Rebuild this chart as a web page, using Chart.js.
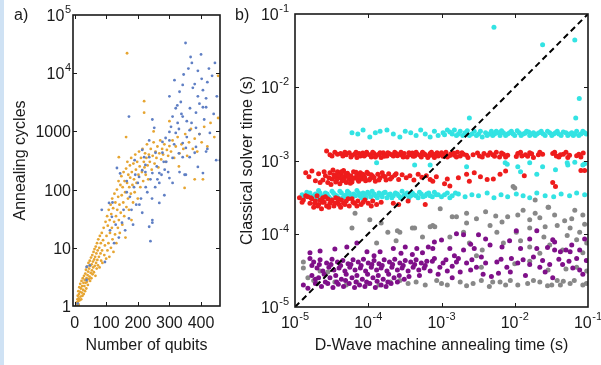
<!DOCTYPE html>
<html>
<head>
<meta charset="utf-8">
<script src="https://cdn.jsdelivr.net/npm/chart.js@4.4.1/dist/chart.umd.min.js"></script>
<style>
  html, body { margin:0; padding:0; background:#ffffff; }
  body { width:601px; height:365px; position:relative; overflow:hidden; font-family:"Liberation Sans", Arial, Helvetica, sans-serif; }
  #strip { position:absolute; left:0; top:0; width:4px; height:365px; background:#cfe2f4; }
  canvas { position:absolute; top:0; }
  #ca { left:0; }
  #cb { left:232px; }
  .plabel { position:absolute; font-size:16px; line-height:16px; color:#1a1a1a; }
</style>
</head>
<body>
<div id="strip"></div>
<canvas id="ca" width="232" height="365"></canvas>
<canvas id="cb" width="369" height="365"></canvas>
<div class="plabel" style="left:14px; top:7px;">a)</div>
<div class="plabel" style="left:235px; top:7px;">b)</div>
<script>
// ---------------- Panel a data ----------------
const aXTicks = [0, 100, 200, 300, 400];
const aYTicks = [1, 10, 100, 1000, 1e4, 1e5];
const aYTickLabels = ['1', '10', '100', '1000', '10\u2074', '10\u2075'];

const aOrange = [
[6,1],[7,1.15],[8,1.05],[9,1.3],[10,1.1],[10,1.5],[11,1.2],[12,1.8],[13,1.35],[13,1.05],[14,1.6],[15,2.1],[16,1.25],[17,1.75],[18,2.4],[19,1.45],[20,2],[21,1.3],[22,2.7],[23,1.7],[24,2.2],[25,1.5],[26,3],[27,1.9],[28,2.5],[29,1.6],[30,3.3],
[31,2.2],[32,2.8],[33,1.8],[34,3.6],[35,2.5],[36,4.2],[37,2],[38,3],[39,2.6],[40,4.8],[41,3.4],[42,2.3],[43,3.9],[44,5.5],[45,2.9],[46,4.4],[47,3.2],[48,6],[49,2.7],[50,4.9],[51,3.7],[52,6.8],[53,3],[54,5.2],[55,4.1],[56,7.5],[57,3.5],[58,5.8],[59,4.6],[60,8.5],
[61,3.8],[62,6.3],[63,9.5],[64,4.9],[65,7],[66,3.3],[67,10.5],[68,5.5],[69,8],[70,4.4],[71,12],[72,6.2],[73,9],[74,5],[75,14],[77,7],[78,10],[79,4.6],[80,16],[82,8],[83,12],[84,6],[86,18],[87,9],[88,5.5],[90,13.5],[92,22],[94,7.5],[96,11],[98,28],
[100,6.5],[101,16],[103,35],[104,9],[105,24],[107,12],[108,45],[110,7],[111,30],[112,18],[114,55],[115,10],[116,38],[118,22],[119,70],[120,14],[122,48],[123,8.5],[125,28],[126,85],[128,17],[129,60],[131,35],[132,12],[134,100],[135,45],[137,22],[138,75],[139,140],[140,30],
[142,55],[143,18],[145,120],[146,40],[148,170],[149,80],[151,25],[152,110],[154,60],[155,200],[157,35],[158,140],[160,90],[161,15],[163,230],[164,50],[166,130],[167,300],[169,70],[170,180],[172,45],[173,110],[175,260],[176,160],[178,85],[179,350],[180,30],[181,200],[183,120],[185,60],
[186,280],[188,150],[190,90],[192,400],[194,220],[196,130],[198,300],[200,70],[202,180],[204,450],[206,250],[208,110],[210,350],[213,200],[215,500],[217,140],[219,300],[221,240],[223,420],[225,180],[227,350],[229,600],[231,260],[233,150],[235,400],
[238,300],[241,500],[244,220],[247,380],[250,650],[253,280],[256,450],[259,350],[262,550],[265,240],[268,420],[271,700],[274,330],[277,500],[280,400],[284,600],[288,300],[292,480],[296,380],[300,560],
[305,450],[310,700],[315,350],[320,550],[326,800],[332,420],[338,600],[344,500],[350,900],[356,380],[362,650],[368,1100],[374,500],[380,750],[388,450],[395,900],[402,650],[410,1200],[420,550],[430,1400],[442,800],[454,1700],
[166,22000],[220,3300],[220,2100],[163,800],[140,360],[380,150],[406,150],[348,107],[330,250],[454,9000],[300,1500],[250,1000]
];

const aBlue = [
[10,1.1],[38,2.8],[48,5],[38,4.7],[96,5.7],[86,45],[109,59],[118,34],[150,27],[172,32],[214,40],[240,13],[246,27],[284,80],[268,59],[352,180],[188,110],[204,165],[224,200],[268,192],[300,158],[236,23],[246,30],[268,130],[310,130],[332,200],[348,180],[144,190],[134,235],[192,180],[224,265],[246,192],[214,215],[236,360],[278,430],[300,700],[320,940],[342,630],[364,360],[384,540],[390,245],[406,192],[448,320],[464,350],
[351,33000],[367,19000],[400,21000],[371,15000],[390,11000],[444,15000],[316,7600],[342,6300],[332,4800],[374,5600],[406,5100],[416,3700],[406,2600],[336,3200],[320,2500],[310,1800],[342,1800],[384,2100],[416,2600],[246,1600],[172,1800],[326,1400],[300,980],[252,1150],[364,1050],[384,1150],[288,770],[278,660],[236,700],[214,480],[220,360],[256,430],[352,520],[342,360],[380,430],[416,450],[428,940],[460,320],
[290,300],[310,350],[260,250],[275,180],[330,420],[355,800],[370,1400],[395,3000],[420,7000],[435,9000],[300,4000],[325,2800],[345,9500],[360,12000],[380,6500],[395,900],[410,1600],[420,500],[440,2000],[450,4000],[230,90],[210,70],[195,55],[180,45],[160,20],[140,15],[125,12],[112,20],[255,110],[285,220],[240,150],[200,130],[175,75],[165,140],[190,320],
[120,60],[130,25],[155,45],[165,90],[185,25],[205,55],[225,110],[245,70],[262,150],[282,300],[296,200],[315,600],[330,1100],[355,1500],[365,2500],[390,4000],[402,8000],[425,12000],[338,2000],[305,1200]
];

// ---------------- Panel b data ----------------
const bTicks = [1e-5, 1e-4, 1e-3, 1e-2, 1e-1];
const bTickLabels = ['10\u207B\u2075', '10\u207B\u2074', '10\u207B\u00B3', '10\u207B\u00B2', '10\u207B\u00B9'];
const bDiagonal = [[1e-5, 1e-5], [1e-1, 1e-1]];

const bRed = [
[2.7e-5,1.35e-3],[3e-5,1.2e-3],[3.5e-5,1.3e-3],[4.2e-5,1.25e-3],[4.5e-5,1.15e-3],[5e-5,1.2e-3],[5.5e-5,1.28e-3],[6e-5,1.18e-3],[6.5e-5,1.22e-3],[7e-5,1.1e-3],[7.5e-5,1.25e-3],[8e-5,1.2e-3],[8.8e-5,1.15e-3],[9.5e-5,1.3e-3],[1.05e-4,1.2e-3],[1.1e-4,1.12e-3],[1.2e-4,1.25e-3],[1.3e-4,1.18e-3],[1.4e-4,1.22e-3],[1.5e-4,1.1e-3],[1.6e-4,1.28e-3],[1.7e-4,1.2e-3],[1.8e-4,1.15e-3],[1.95e-4,1.24e-3],[2.1e-4,1.2e-3],[2.3e-4,1.3e-3],[2.5e-4,1.16e-3],[2.7e-4,1.22e-3],[2.9e-4,1.18e-3],[3.1e-4,1.25e-3],[3.4e-4,1.12e-3],[3.7e-4,1.2e-3],[4e-4,1.27e-3],[4.3e-4,1.15e-3],[4.7e-4,1.22e-3],[5.1e-4,1.18e-3],[5.5e-4,1.3e-3],[6e-4,1.2e-3],[6.5e-4,1.1e-3],[7e-4,1.25e-3],[7.6e-4,1.18e-3],[8.3e-4,1.22e-3],[9e-4,1.15e-3],[1e-3,1.28e-3],[1.1e-3,1.2e-3],[1.2e-3,1.12e-3],[1.35e-3,1.24e-3],[1.5e-3,1.18e-3],[1.65e-3,1.3e-3],[1.8e-3,1.15e-3],[2e-3,1.22e-3],[2.3e-3,1.1e-3],[2.7e-3,1.2e-3],[3.3e-3,1.15e-3],[3.8e-3,1.25e-3],[4.3e-3,1.18e-3],[5e-3,1.2e-3],[5.6e-3,1.3e-3],[6.2e-3,1.12e-3],[7e-3,1.22e-3],[8e-3,1.18e-3],[1.1e-2,1.25e-3],[1.25e-2,1.15e-3],[1.4e-2,1.2e-3],[1.6e-2,1.28e-3],[1.8e-2,1.1e-3],[2.1e-2,1.2e-3],[2.4e-2,1.22e-3],[3.3e-2,1.25e-3],[3.7e-2,1.15e-3],[4.2e-2,1.2e-3],[5e-2,1.3e-3],[5.6e-2,1.18e-3],[7.5e-2,1.22e-3],[8e-2,1.12e-3],
[3.2e-5,1.15e-3],[3.8e-5,1.22e-3],[4.8e-5,1.3e-3],[5.8e-5,1.12e-3],[6.8e-5,1.3e-3],[7.8e-5,1.15e-3],[8.4e-5,1.27e-3],[9.2e-5,1.2e-3],[1.15e-4,1.3e-3],[1.25e-4,1.12e-3],[1.45e-4,1.28e-3],[1.65e-4,1.14e-3],[1.85e-4,1.28e-3],[2.2e-4,1.15e-3],[2.4e-4,1.25e-3],[2.8e-4,1.3e-3],[3e-4,1.12e-3],[3.6e-4,1.28e-3],[4.1e-4,1.14e-3],[4.5e-4,1.3e-3],[5.3e-4,1.12e-3],[5.8e-4,1.24e-3],[6.8e-4,1.17e-3],[7.3e-4,1.3e-3],[8e-4,1.1e-3],[8.7e-4,1.28e-3],[9.5e-4,1.2e-3],[1.05e-3,1.14e-3],[1.15e-3,1.3e-3],[1.3e-3,1.17e-3],[1.45e-3,1.27e-3],[1.6e-3,1.12e-3],[1.9e-3,1.28e-3],[2.2e-3,1.18e-3],[3.1e-3,1.27e-3],[3.6e-3,1.12e-3],[4.6e-3,1.28e-3],[5.3e-3,1.14e-3],[6.6e-3,1.27e-3],[7.5e-3,1.12e-3],[1.05e-2,1.13e-3],[1.2e-2,1.3e-3],[1.5e-2,1.14e-3],[1.7e-2,1.24e-3],[2.2e-2,1.3e-3],[3.5e-2,1.3e-3],[4e-2,1.12e-3],[4.6e-2,1.22e-3],[5.3e-2,1.1e-3],[7e-2,1.16e-3],[8.6e-2,1.27e-3],
[1.4e-5,6.8e-4],[1.7e-5,7.2e-4],[1.9e-5,5.3e-4],[2.4e-5,5.4e-4],[2.6e-5,6.2e-4],[2.8e-5,5e-4],[3e-5,6.8e-4],[3.2e-5,5.6e-4],[3.4e-5,6.4e-4],[3.6e-5,5.1e-4],[3.8e-5,7e-4],[4e-5,5.8e-4],[4.2e-5,6.5e-4],[4.4e-5,5.3e-4],[4.6e-5,7.3e-4],[4.8e-5,6e-4],[5e-5,5e-4],[5.2e-5,6.7e-4],[5.5e-5,5.5e-4],[5.8e-5,6.2e-4],[6e-5,5.1e-4],[6.3e-5,7e-4],[6.6e-5,5.8e-4],[7e-5,6.4e-4],[7.4e-5,5.2e-4],[7.8e-5,6.8e-4],[8.2e-5,5.6e-4],[8.7e-5,6.2e-4],[9.2e-5,5.3e-4],[1e-4,6.6e-4],[1.07e-4,5.7e-4],[1.15e-4,6.1e-4],[1.25e-4,5.2e-4],[1.35e-4,6.5e-4],[1.45e-4,5.8e-4],[1.6e-4,6.2e-4],[1.75e-4,5.4e-4],[1.9e-4,6.6e-4],[2.1e-4,5.9e-4],[2.3e-4,6.3e-4],[2.6e-4,5.5e-4],[2.9e-4,6.4e-4],[3.3e-4,5.8e-4],[3.7e-4,6.2e-4],[4.2e-4,5.4e-4],[4.8e-4,6.5e-4],[5.4e-4,5.9e-4],[6.2e-4,6.2e-4],[7e-4,5.5e-4],[7.6e-4,5.2e-4],[8.5e-4,6e-4],[1.1e-3,4.8e-4],[1.2e-3,5.6e-4],[1.3e-3,4.5e-4],[1.7e-3,5.8e-4],[2.2e-3,6.5e-4],[2.4e-3,5.2e-4],[2.8e-3,6.8e-4],[3.4e-3,6e-4],[4.2e-3,5.5e-4],[5.1e-3,5.6e-4],[6.3e-3,6.5e-4],[7.5e-3,7.2e-4],[1.35e-2,6.2e-4],[3.3e-2,5e-4],[3.6e-2,4.4e-4],[8e-2,7.3e-4],[9e-2,7.3e-4],
[1.55e-5,6e-4],[2.1e-5,6.6e-4],[2.2e-5,5e-4],[2.5e-5,7e-4],[2.9e-5,5.8e-4],[3.1e-5,4.7e-4],[3.3e-5,7.4e-4],[3.5e-5,6e-4],[3.7e-5,5.4e-4],[3.9e-5,6.3e-4],[4.1e-5,4.8e-4],[4.3e-5,7e-4],[4.5e-5,5.9e-4],[4.7e-5,5.5e-4],[4.9e-5,6.6e-4],[5.4e-5,6.1e-4],[5.7e-5,4.9e-4],[6.2e-5,5.7e-4],[6.8e-5,6.9e-4],[7.2e-5,5.5e-4],[7.6e-5,6e-4],[8.4e-5,6.5e-4],[9e-5,5.8e-4],[9.6e-5,6.9e-4],[1.03e-4,5.4e-4],[1.1e-4,6.4e-4],[1.2e-4,5.8e-4],[1.4e-4,5.4e-4],[1.55e-4,6.8e-4],[1.7e-4,6e-4],[2e-4,5.6e-4],[2.4e-4,6.6e-4],
[1.15e-5,3.1e-4],[1.3e-5,2.9e-4],[1.5e-5,3.2e-4],[1.6e-5,2.6e-4],[1.7e-5,3e-4],[1.8e-5,2.3e-4],[1.9e-5,2.8e-4],[2e-5,3.3e-4],[2.1e-5,2.5e-4],[2.2e-5,2.9e-4],[2.3e-5,2.2e-4],[2.4e-5,3.1e-4],[2.5e-5,2.7e-4],[2.7e-5,2.4e-4],[2.8e-5,3e-4],[3e-5,2.6e-4],[3.2e-5,2.9e-4],[3.4e-5,2.4e-4],[3.6e-5,3.1e-4],[3.8e-5,2.7e-4],[4e-5,2.5e-4],[4.3e-5,2.9e-4],[4.6e-5,2.6e-4],[5e-5,2.8e-4],[5.5e-5,2.4e-4],[6e-5,3e-4],[6.5e-5,2.6e-4],[7.2e-5,2.8e-4],[8e-5,2.5e-4],[9e-5,2.9e-4],[1e-4,2.6e-4],[1.15e-4,2.8e-4],[1.3e-4,2.5e-4],[1.5e-4,2.7e-4],[2.2e-4,2.6e-4],[2.6e-4,2.5e-4],[3.5e-4,2.8e-4],[6e-4,2.5e-4],
[1.25e-5,2.7e-4],[1.4e-5,3.3e-4],[1.65e-5,3.1e-4],[1.85e-5,2.6e-4],[2.05e-5,2.4e-4],[2.35e-5,2.7e-4],[2.6e-5,3.2e-4],[2.9e-5,2.3e-4],[3.1e-5,2.8e-4],[3.5e-5,2.6e-4],[3.9e-5,3e-4],[4.2e-5,2.3e-4],[4.8e-5,2.5e-4],[5.3e-5,3e-4],[6.2e-5,2.7e-4],[7e-5,2.4e-4],[8.5e-5,2.7e-4],[1.1e-4,2.4e-4]
];

const bCyan = [
[6e-5,2.4e-3],[7.2e-5,2.3e-3],[8.5e-5,2.6e-3],[1.05e-4,2.1e-3],[1.25e-4,2.4e-3],[1.45e-4,2.5e-3],[1.8e-4,2.6e-3],[2.2e-4,2.3e-3],[2.7e-4,2.1e-3],[3.2e-4,2.5e-3],[3.8e-4,2.4e-3],[4.5e-4,2.2e-3],[5.2e-4,2.6e-3],[6e-4,2.3e-3],[7e-4,2.1e-3],[8e-4,2.5e-3],[9e-4,2.2e-3],[1.05e-3,2.4e-3],[1.2e-3,2.6e-3],[1.4e-3,2.3e-3],[1.6e-3,2.2e-3],[1.8e-3,2.5e-3],[2.1e-3,2.4e-3],[2.4e-3,2.2e-3],[2.8e-3,2.5e-3],[3.2e-3,2.3e-3],[3.6e-3,2.1e-3],[4e-3,2.4e-3],[4.5e-3,2.3e-3],[5e-3,2.2e-3],[5.6e-3,2.5e-3],[6.3e-3,2.2e-3],[7e-3,2.4e-3],[8e-3,2.3e-3],[9e-3,2.5e-3],[1e-2,2.2e-3],[1.15e-2,2.4e-3],[1.3e-2,2.3e-3],[1.45e-2,2.5e-3],[1.6e-2,2.2e-3],[1.8e-2,2.4e-3],[2e-2,2.3e-3],[2.3e-2,2.5e-3],[2.6e-2,2.2e-3],[3e-2,2.4e-3],[3.4e-2,2.3e-3],[3.8e-2,2.5e-3],[4.3e-2,2.2e-3],[5e-2,2.4e-3],[5.6e-2,2.3e-3],[6.3e-2,2.2e-3],[7e-2,2.5e-3],[8e-2,2.3e-3],[9e-2,2.4e-3],
[1.1e-3,2.25e-3],[1.3e-3,2.45e-3],[1.5e-3,2.6e-3],[1.7e-3,2.3e-3],[1.95e-3,2.2e-3],[2.25e-3,2.55e-3],[2.6e-3,2.3e-3],[3e-3,2.2e-3],[3.4e-3,2.5e-3],[4.2e-3,2.2e-3],[4.8e-3,2.5e-3],[5.3e-3,2.3e-3],[6e-3,2.4e-3],[6.6e-3,2.55e-3],[7.5e-3,2.2e-3],[8.5e-3,2.4e-3],[9.5e-3,2.3e-3],[1.08e-2,2.55e-3],[1.22e-2,2.2e-3],[1.38e-2,2.35e-3],[1.55e-2,2.45e-3],[1.7e-2,2.3e-3],[1.9e-2,2.2e-3],[2.15e-2,2.4e-3],[2.45e-2,2.3e-3],[2.8e-2,2.5e-3],[3.2e-2,2.2e-3],[3.6e-2,2.4e-3],[4e-2,2.3e-3],[4.6e-2,2.45e-3],[5.3e-2,2.2e-3],[6e-2,2.4e-3],[6.6e-2,2.3e-3],[7.5e-2,2.2e-3],[8.5e-2,2.5e-3],[9.5e-2,2.3e-3],
[5.2e-3,6.6e-2],[2.4e-2,3.8e-2],[6.6e-2,4.4e-2],[7.6e-2,7e-3],[6.8e-2,3.8e-3],[2.4e-3,3.8e-3],
[1.3e-4,9.3e-4],[4.3e-4,8.7e-4],[7e-4,8.7e-4],[2.2e-3,8.2e-4],[7.4e-3,9.3e-4],[7.9e-3,8.9e-4],[1.1e-2,8.2e-4],[1.6e-2,9.3e-4],[2.4e-2,8.2e-4],[5.2e-2,9.3e-4],[5.3e-2,8.7e-4],[6.6e-2,9.5e-4],[8.5e-2,8.7e-4],[1.2e-2,7e-4],[2e-2,6.5e-4],[3.6e-2,7.5e-4],[9e-2,9e-4],
[1.25e-5,3.4e-4],[1.45e-5,3.7e-4],[1.7e-5,3.1e-4],[1.9e-5,3.5e-4],[2.1e-5,3.9e-4],[2.3e-5,3.3e-4],[2.6e-5,3.6e-4],[2.9e-5,3.2e-4],[3.2e-5,3.8e-4],[3.5e-5,3.4e-4],[3.9e-5,3.1e-4],[4.3e-5,3.6e-4],[4.7e-5,3.3e-4],[5.2e-5,3.8e-4],[5.7e-5,3.2e-4],[6.3e-5,3.5e-4],[7e-5,3.9e-4],[7.7e-5,3.3e-4],[8.5e-5,3.6e-4],[9.3e-5,3.1e-4],[1.03e-4,3.5e-4],[1.13e-4,3.8e-4],[1.25e-4,3.3e-4],[1.4e-4,3.6e-4],[1.55e-4,3.2e-4],[1.7e-4,3.7e-4],[1.9e-4,3.4e-4],[2.1e-4,3.1e-4],[2.35e-4,3.6e-4],[2.6e-4,3.3e-4],[2.9e-4,3.8e-4],[3.2e-4,3.4e-4],[3.6e-4,3.1e-4],[4e-4,3.6e-4],[4.5e-4,3.3e-4],[5e-4,3.7e-4],[5.6e-4,3.2e-4],[6.3e-4,3.5e-4],[7e-4,3.3e-4],[8e-4,3.7e-4],[9e-4,3.4e-4],[1e-3,3.2e-4],[1.2e-3,3.6e-4],[1.4e-3,3.3e-4],[1.7e-3,3.5e-4],[2.1e-3,3.2e-4],[2.6e-3,3.4e-4],[3.2e-3,3.3e-4],[4.2e-3,3.6e-4],[5.2e-3,3.1e-4],[6.5e-3,3.4e-4],[8e-3,3.2e-4],[1.05e-2,3.5e-4],[1.3e-2,3.3e-4],[1.6e-2,3.1e-4],[2e-2,3.6e-4],[2.6e-2,3.3e-4],[3.4e-2,3.2e-4],[4.3e-2,3.5e-4],[5.6e-2,3.3e-4],[7e-2,3.6e-4],[9e-2,3.4e-4],
[1.35e-5,3.2e-4],[1.6e-5,3.6e-4],[1.8e-5,3.3e-4],[2e-5,3e-4],[2.2e-5,3.6e-4],[2.45e-5,3.2e-4],[2.75e-5,3.5e-4],[3.05e-5,3e-4],[3.35e-5,3.6e-4],[3.7e-5,3.3e-4],[4.1e-5,3.8e-4],[4.5e-5,3.1e-4],[5e-5,3.4e-4],[5.5e-5,3.6e-4],[6e-5,3.1e-4],[6.7e-5,3.3e-4],[7.4e-5,3.6e-4],[8.1e-5,3.1e-4],[8.9e-5,3.4e-4],[9.8e-5,3.7e-4],[1.08e-4,3.2e-4],[1.2e-4,3.5e-4],[1.33e-4,3.1e-4],[1.47e-4,3.4e-4],[1.62e-4,3.6e-4],[1.8e-4,3.1e-4],[2e-4,3.5e-4],[2.2e-4,3.3e-4],[2.5e-4,3.5e-4],[2.75e-4,3.1e-4],[3.05e-4,3.3e-4],[3.4e-4,3.6e-4],[3.8e-4,3.3e-4],[4.2e-4,3.4e-4],[4.8e-4,3.1e-4],[5.3e-4,3.5e-4],[6e-4,3.3e-4],[6.7e-4,3.6e-4],[7.5e-4,3.2e-4],[8.5e-4,3.4e-4],[1.1e-3,3.4e-4],[1.3e-3,3.1e-4],[1.55e-3,3.6e-4]
];

const bGray = [
[6.6e-5,1.9e-4],[1.05e-4,1.55e-4],[6e-5,1.2e-4],[1.85e-4,1.05e-4],[2.7e-4,1.05e-4],[4.3e-4,1.2e-4],[7.6e-4,1.3e-4],[1.3e-4,7.5e-5],[1.3e-5,4.1e-5],[1.3e-5,3.4e-5],[2.2e-5,3.1e-5],
[9.6e-4,2.2e-4],[1.6e-3,1.7e-4],[2.2e-3,1.9e-4],[2.2e-3,1.4e-4],[4.6e-3,1.3e-4],[6.7e-3,1.45e-4],[8e-3,1.7e-4],[1.1e-2,1.8e-4],[1.6e-2,1.55e-4],[2.2e-2,1.65e-4],[2.85e-2,2.3e-4],[6.6e-2,2.1e-4],[8.5e-2,1.8e-4],[8.1e-4,1.25e-4],[2e-3,1.05e-4],[5.7e-3,1.05e-4],[1.05e-2,1.05e-4],[1.6e-2,1.2e-4],[2.6e-2,1.25e-4],[3.8e-2,1.3e-4],[5.7e-2,1.2e-4],[7.7e-2,1.05e-4],[2.4e-3,7.5e-5],[3.6e-3,6e-5],[7e-3,7.5e-5],[1.6e-2,6.6e-5],[2.2e-2,5.4e-5],[4.5e-2,6e-5],[7e-2,8.3e-5],[9.6e-2,7.5e-5],[1e-2,3.9e-5],[2.85e-2,3.2e-5],[7e-2,3.5e-5],[9.6e-2,3.1e-5],
[8.6e-4,2.3e-5],[1.8e-3,2.2e-5],[2.7e-3,2.1e-5],[6.3e-3,2.2e-5],[8.7e-3,2.3e-5],[1.5e-2,2.1e-5],[3.8e-2,2.3e-5],[5.7e-2,2.1e-5],[8.5e-2,2e-5],[1.2e-3,2e-5],[3.5e-3,2.3e-5],[4.5e-3,1.9e-5],[2.2e-2,2.2e-5],[2.8e-2,1.95e-5],[4.6e-2,2.25e-5],
[1.5e-5,2.5e-5],[1.8e-5,2.3e-5],[2e-5,2.1e-5],[2.8e-5,3e-5],[3.5e-5,2.2e-5],[5e-5,2e-5],[7e-5,2.2e-5],[1e-4,2.1e-5],[1.4e-4,2e-5],[2e-4,2.2e-5],[2.7e-4,2.3e-5],[3.5e-4,2.1e-5],[4.5e-4,2.2e-5],[6e-4,2e-5],
[2.5e-4,1.1e-4],[4e-4,1.2e-4],[7e-4,1.25e-4],[9.5e-3,4.4e-4],[1.9e-2,2.9e-4],[2.9e-2,2.3e-4],[1e-2,4.2e-4],[1.4e-3,1.7e-4],
[3e-3,1.6e-4],[4e-3,2e-4],[5.5e-3,1.75e-4],[1.3e-2,2.1e-4],[1.9e-2,1.9e-4],[3.5e-2,1.8e-4],[4.8e-2,1.5e-4],[6e-2,1.6e-4],[9e-2,1.35e-4],[1.2e-2,8e-5],[2.5e-2,9e-5],[3e-2,7e-5],[5.2e-2,9.5e-5],[8.5e-2,5.5e-5],[1.3e-3,9e-5],[3e-3,5e-5],[5e-3,2.2e-5],[1.1e-2,2e-5],[1.8e-2,2.3e-5],[3.2e-2,2e-5],[6.5e-2,2.3e-5],[9.5e-2,2.1e-5],[1e-3,2.1e-5],[2.2e-3,1.95e-5],[7.5e-3,2e-5],[4.2e-2,2e-5],[1.6e-2,4.2e-5],[3.5e-3,3.5e-5],[5e-2,3.3e-5],[2.4e-4,8e-5],[1.5e-4,1.4e-4],[5.5e-4,9e-5]
];

const bPurple = [
[1.6e-5,4.6e-5],[1.8e-5,4.1e-5],[2.2e-5,4.4e-5],[2.7e-5,4e-5],[3.2e-5,4.5e-5],[3.8e-5,4.1e-5],[4.5e-5,4.3e-5],[5.3e-5,3.9e-5],[6.2e-5,4.4e-5],[7.3e-5,4.1e-5],[8.6e-5,4.5e-5],[1e-4,4e-5],[1.2e-4,4.3e-5],[1.4e-4,3.9e-5],[1.65e-4,4.4e-5],[1.95e-4,4.1e-5],[2.3e-4,4.5e-5],[2.7e-4,4e-5],[3.2e-4,4.3e-5],[3.8e-4,4.1e-5],[4.5e-4,4.4e-5],[5.3e-4,4e-5],[6.3e-4,4.2e-5],
[2e-5,3.4e-5],[2.4e-5,3.1e-5],[2.9e-5,3.5e-5],[3.4e-5,3.2e-5],[4e-5,3.4e-5],[4.8e-5,3.1e-5],[5.6e-5,3.5e-5],[6.6e-5,3.2e-5],[7.8e-5,3.4e-5],[9.2e-5,3.1e-5],[1.1e-4,3.5e-5],[1.3e-4,3.2e-5],[1.5e-4,3.4e-5],[1.8e-4,3.1e-5],[2.1e-4,3.5e-5],[2.5e-4,3.2e-5],[2.9e-4,3.4e-5],[3.5e-4,3.1e-5],[4.1e-4,3.5e-5],[4.9e-4,3.2e-5],[5.8e-4,3.4e-5],[7e-4,3.1e-5],
[1.7e-5,2.7e-5],[2.1e-5,2.5e-5],[2.5e-5,2.8e-5],[3e-5,2.5e-5],[3.6e-5,2.7e-5],[4.3e-5,2.4e-5],[5e-5,2.8e-5],[6e-5,2.5e-5],[7e-5,2.7e-5],[8.3e-5,2.4e-5],[9.8e-5,2.8e-5],[1.16e-4,2.5e-5],[1.37e-4,2.7e-5],[1.6e-4,2.4e-5],[1.9e-4,2.8e-5],[2.25e-4,2.5e-5],[2.65e-4,2.7e-5],[3.1e-4,2.4e-5],
[1.3e-5,2e-5],[1.5e-5,1.8e-5],[1.9e-5,2.1e-5],[2.3e-5,1.9e-5],[2.8e-5,2.1e-5],[3.3e-5,1.85e-5],[3.9e-5,2.05e-5],[4.6e-5,1.9e-5],[5.5e-5,2.1e-5],[6.5e-5,1.85e-5],[7.6e-5,2e-5],[9e-5,1.9e-5],[1.05e-4,2.1e-5],[1.25e-4,1.85e-5],[1.5e-4,2e-5],[1.75e-4,1.9e-5],[2.05e-4,2.1e-5],
[1.6e-5,5.5e-5],[2.2e-5,5.8e-5],[3.5e-5,6.2e-5],[5.1e-5,6.6e-5],[7e-5,7.5e-5],[9.6e-5,5.7e-5],[1.45e-4,5.7e-5],[2.2e-4,6.3e-5],[3.2e-4,6.6e-5],[4.6e-4,6.3e-5],[6.6e-4,6.6e-5],[8e-4,7.7e-5],[4e-4,5.2e-5],[1.2e-4,5e-5],[2.8e-4,5.4e-5],[5.5e-4,5.5e-5],
[2e-3,9.7e-5],[3.2e-3,9.7e-5],[1.05e-2,1.1e-4],[2e-2,1.1e-4],[3.3e-2,8.3e-5],[7.7e-2,6e-5],[7.6e-4,6.3e-5],[1.3e-3,6.3e-5],[2e-3,6e-5],[4.6e-3,7e-5],[6.7e-3,6.6e-5],[1.2e-2,6.3e-5],[2e-2,6.3e-5],[3.5e-2,6e-5],[4.2e-2,5.7e-5],[5.7e-2,5.7e-5],
[8e-4,4.6e-5],[1.05e-3,4e-5],[1.6e-3,4.1e-5],[2.2e-3,4e-5],[3e-3,3.5e-5],[5.7e-3,4.1e-5],[7.8e-3,3.5e-5],[1.1e-2,4e-5],[1.6e-2,3.8e-5],[2.2e-2,3.5e-5],[3e-2,3.8e-5],[4.5e-2,3.8e-5],[6.2e-2,3.4e-5],[8.5e-2,2.8e-5],[1.2e-3,3.1e-5],[1.8e-3,3e-5],[3.7e-3,2.8e-5],[4.8e-3,2.6e-5],[8.7e-3,3e-5],[3.3e-2,2.5e-5],[3.5e-2,7.7e-5],[5e-2,6e-5],[7.7e-2,3.2e-5],
[9e-4,2.8e-5],[1.4e-3,2.5e-5],[2.5e-3,3.2e-5],[6e-3,2.9e-5],[1.4e-2,2.7e-5],[2.6e-2,3e-5],[9e-3,4.6e-5],[1.5e-3,5e-5],[3.5e-3,4.8e-5],
[1.7e-5,3.7e-5],[1.9e-5,2.4e-5],[2.15e-5,3.8e-5],[2.6e-5,2.2e-5],[3.1e-5,3.8e-5],[3.7e-5,2.2e-5],[4.2e-5,3.7e-5],[4.9e-5,2.3e-5],[5.8e-5,3.8e-5],[6.8e-5,2.2e-5],[8e-5,3.7e-5],[9.5e-5,2.2e-5],[1.12e-4,3.8e-5],[1.32e-4,2.25e-5],[1.55e-4,3.7e-5],[1.85e-4,2.2e-5],[2.15e-4,3.8e-5],[2.5e-4,2.2e-5],[3e-4,3.7e-5],[3.6e-4,2.6e-5],[4.3e-4,3.8e-5],[5e-4,2.7e-5],[6e-4,3.7e-5],[7.5e-4,4.2e-5],[9.5e-4,3.5e-5],[1.15e-3,4.4e-5],[1.4e-3,3.6e-5],[1.7e-3,4.6e-5],[2.6e-3,4.4e-5],[4e-3,4e-5],[6.5e-3,4.5e-5],[1.3e-2,4.4e-5],[1.8e-2,4.8e-5],[2.4e-2,4.3e-5],[4e-2,4.5e-5],[5.5e-2,4.2e-5],[7e-2,4.6e-5],[9.5e-2,4.3e-5],[6e-2,7e-5],[9e-2,8.5e-5],[2.8e-2,6.5e-5],[1.6e-2,8.5e-5],[8.5e-3,8e-5],[4e-3,8.5e-5],[2.5e-3,7.2e-5],[1e-3,8.2e-5],[1.6e-3,1e-4],[2.8e-3,6.3e-5]
];

// ---------------- helpers ----------------
const toXY = arr => arr.map(p => ({x: p[0], y: p[1]}));
const FONT = '"Liberation Sans", Arial, Helvetica, sans-serif';
const INK = '#1a1a1a';
const SUP = {'\u207B':'-','\u2070':'0','\u00B9':'1','\u00B2':'2','\u00B3':'3','\u2074':'4','\u2075':'5','\u2076':'6','\u2077':'7','\u2078':'8','\u2079':'9'};

function splitLabel(s) {
  let base = '', exp = '';
  for (const ch of s) { if (SUP[ch] !== undefined) exp += SUP[ch]; else base += ch; }
  return [base, exp];
}

function drawPowLabel(ctx, text, x, baseY, align) {
  const [base, exp] = splitLabel(text);
  ctx.font = '16px ' + FONT;
  const wb = ctx.measureText(base).width;
  ctx.font = '11px ' + FONT;
  const we = exp ? ctx.measureText(exp).width + 0.5 : 0;
  const total = wb + we;
  const left = align === 'center' ? x - total / 2 : x - total;
  ctx.textAlign = 'left';
  ctx.textBaseline = 'alphabetic';
  ctx.fillStyle = INK;
  ctx.font = '16px ' + FONT;
  ctx.fillText(base, left, baseY);
  if (exp) { ctx.font = '11px ' + FONT; ctx.fillText(exp, left + wb + 0.5, baseY - 8); }
}

function fixedAxis(size, horizontal) {
  return function(scale) {
    if (horizontal) scale.height = size; else scale.width = size;
    scale.paddingLeft = 0; scale.paddingRight = 0;
    scale.paddingTop = 0; scale.paddingBottom = 0;
  };
}

// draws tick labels (with raised exponents) of log axes at the scales' own tick positions
const powLabels = {
  id: 'powLabels',
  afterDraw(chart, args, opts) {
    const {ctx, chartArea: a, scales} = chart;
    ctx.save();
    if (opts.x) {
      scales.x.ticks.forEach((t, i) => {
        drawPowLabel(ctx, opts.x[i], scales.x.getPixelForValue(t.value), a.bottom + 21, 'center');
      });
    }
    if (opts.y) {
      scales.y.ticks.forEach((t, i) => {
        drawPowLabel(ctx, opts.y[i], a.left - (opts.yGap || 3), scales.y.getPixelForValue(t.value) + 6, 'right');
      });
    }
    ctx.restore();
  }
};

const boxPlugin = {
  id: 'box',
  afterDatasetsDraw(chart) {
    const {ctx, chartArea: a, scales} = chart;
    ctx.save();
    ctx.strokeStyle = INK;
    ctx.lineWidth = 1;
    ctx.beginPath();
    const L = 4;
    for (const t of scales.x.ticks) {
      const px = Math.round(scales.x.getPixelForValue(t.value)) + 0.5;
      if (px <= a.left + 1 || px >= a.right - 1) continue;
      ctx.moveTo(px, a.bottom); ctx.lineTo(px, a.bottom - L);
      ctx.moveTo(px, a.top); ctx.lineTo(px, a.top + L);
    }
    for (const t of scales.y.ticks) {
      const py = Math.round(scales.y.getPixelForValue(t.value)) + 0.5;
      if (py <= a.top + 1 || py >= a.bottom - 1) continue;
      ctx.moveTo(a.left, py); ctx.lineTo(a.left + L, py);
      ctx.moveTo(a.right, py); ctx.lineTo(a.right - L, py);
    }
    ctx.stroke();
    ctx.lineWidth = 1.6;
    ctx.strokeRect(a.left, a.top, a.right - a.left, a.bottom - a.top);
    ctx.restore();
  }
};

// ---------------- Chart a ----------------
new Chart(document.getElementById('ca'), {
  type: 'scatter',
  data: {
    datasets: [
      { label: 'blue', data: toXY(aBlue), backgroundColor: '#5f7fc4', borderWidth: 0, pointRadius: 1.4, pointHoverRadius: 1.4 },
      { label: 'orange', data: toXY(aOrange), backgroundColor: '#e6a532', borderWidth: 0, pointRadius: 1.4, pointHoverRadius: 1.4 }
    ]
  },
  options: {
    responsive: false, animation: false, devicePixelRatio: 1,
    layout: { padding: { top: 15, right: 12, left: 0, bottom: 0 } },
    plugins: { legend: { display: false }, tooltip: { enabled: false },
               powLabels: { y: aYTickLabels, yGap: 2 } },
    scales: {
      x: {
        type: 'linear', min: -5, max: 460,
        afterBuildTicks: s => { s.ticks = aXTicks.map(v => ({value: v})); },
        afterFit: fixedAxis(59, true),
        grid: { display: false, drawTicks: false }, border: { display: false },
        ticks: { autoSkip: false, maxRotation: 0, minRotation: 0, padding: 8, color: INK, font: { family: FONT, size: 16 } },
        title: { display: true, text: 'Number of qubits', color: INK, font: { family: FONT, size: 16 }, padding: { top: 0, bottom: 10 } }
      },
      y: {
        type: 'logarithmic', min: 1, max: 1e5,
        afterBuildTicks: s => { s.ticks = aYTicks.map(v => ({value: v})); },
        afterFit: fixedAxis(73, false),
        grid: { display: false, drawTicks: false }, border: { display: false },
        ticks: { display: false, callback: (v, i) => aYTickLabels[i] },
        title: { display: true, text: 'Annealing cycles', color: INK, font: { family: FONT, size: 16 }, padding: { top: 11, bottom: 0 } }
      }
    }
  },
  plugins: [boxPlugin, powLabels]
});

// ---------------- Chart b ----------------
new Chart(document.getElementById('cb'), {
  type: 'scatter',
  data: {
    datasets: [
      { type: 'line', label: 'diagonal', data: toXY(bDiagonal), borderColor: '#000000', borderWidth: 2, borderDash: [6, 4], pointRadius: 0, fill: false },
      { label: 'red', data: toXY(bRed), backgroundColor: '#ee1c1c', borderWidth: 0, pointRadius: 2.5, pointHoverRadius: 2.5 },
      { label: 'cyan', data: toXY(bCyan), backgroundColor: '#33e3e3', borderWidth: 0, pointRadius: 2.5, pointHoverRadius: 2.5 },
      { label: 'purple', data: toXY(bPurple), backgroundColor: '#7f1089', borderWidth: 0, pointRadius: 2.5, pointHoverRadius: 2.5 },
      { label: 'gray', data: toXY(bGray), backgroundColor: '#888888', borderWidth: 0, pointRadius: 2.5, pointHoverRadius: 2.5 }
    ]
  },
  options: {
    responsive: false, animation: false, devicePixelRatio: 1,
    layout: { padding: { top: 14, right: 13, left: 0, bottom: 0 } },
    plugins: { legend: { display: false }, tooltip: { enabled: false },
               powLabels: { x: bTickLabels, y: bTickLabels, yGap: 6 } },
    scales: {
      x: {
        type: 'logarithmic', min: 1e-5, max: 1e-1,
        afterBuildTicks: s => { s.ticks = bTicks.map(v => ({value: v})); },
        afterFit: fixedAxis(58, true),
        grid: { display: false, drawTicks: false }, border: { display: false },
        ticks: { display: false, callback: (v, i) => bTickLabels[i] },
        title: { display: true, text: 'D-Wave machine annealing time (s)', color: INK, font: { family: FONT, size: 16 }, padding: { top: 0, bottom: 10 } }
      },
      y: {
        type: 'logarithmic', min: 1e-5, max: 1e-1,
        afterBuildTicks: s => { s.ticks = bTicks.map(v => ({value: v})); },
        afterFit: fixedAxis(63, false),
        grid: { display: false, drawTicks: false }, border: { display: false },
        ticks: { display: false, callback: (v, i) => bTickLabels[i] },
        title: { display: true, text: 'Classical solver time (s)', color: INK, font: { family: FONT, size: 16 }, padding: { top: 6, bottom: 0 } }
      }
    }
  },
  plugins: [boxPlugin, powLabels]
});
</script>
</body>
</html>
